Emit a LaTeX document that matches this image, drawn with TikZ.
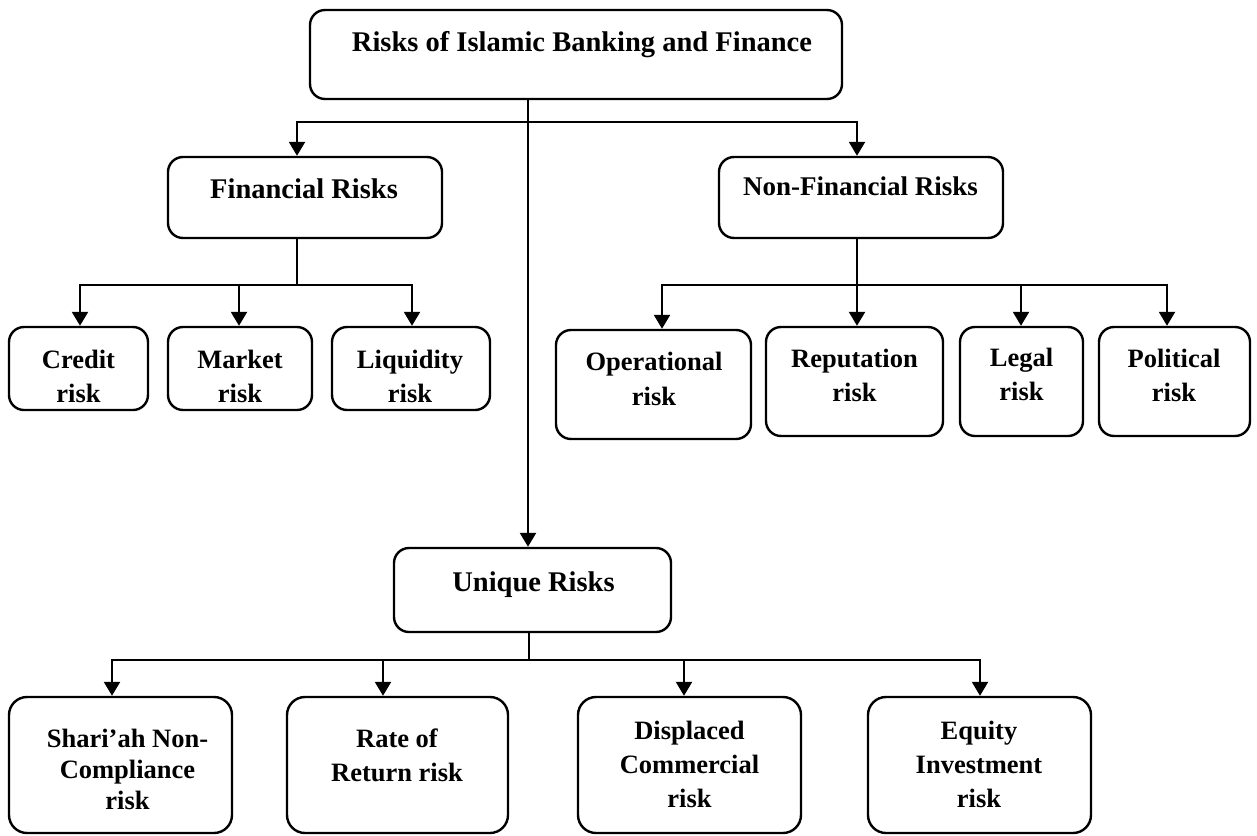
\documentclass[tikz,border=0pt]{standalone}
\usepackage{fontspec}
\setmainfont{Liberation Serif}
\usetikzlibrary{arrows.meta}
\tikzset{
  rbox/.style={draw, line width=2.4pt, rounded corners=15pt, inner sep=0pt},
  lbl/.style={anchor=north, inner sep=0pt, align=center,
    font=\bfseries\fontsize{26.5}{34}\selectfont},
  head/.style={lbl, font=\bfseries\fontsize{28.5}{34}\selectfont},
  wire/.style={line width=2.3pt},
  arr/.style={wire, -{Triangle[width=16pt,length=14pt]}},
}
% \mkbox[options]{name}{x1}{y1}{x2}{y2}: rounded box spanning the given corners
\newcommand\mkbox[6][]{%
  \node[rbox,#1,minimum width={(#5-#3)*1pt},minimum height={(#6-#4)*1pt}]
    (#2) at ({(#3+#5)/2},{(#4+#6)/2}) {};}
\begin{document}
\begin{tikzpicture}[x=1pt,y=-1pt]
\fill[white] (0,0) rectangle (1257,835);
\useasboundingbox (0,0) rectangle (1257,835);

% boxes
\mkbox{top}{310}{10}{842}{99}
\mkbox{fin}{168}{157}{442}{238}
\mkbox{nonfin}{719}{157}{1003}{238}
\mkbox{unique}{394}{548}{671}{632}
\mkbox{credit}{9}{327}{148}{410}
\mkbox{market}{168}{327}{312}{410}
\mkbox{liquid}{332}{327}{490}{410}
\mkbox{oper}{556}{330}{751}{439}
\mkbox{reput}{766}{327}{943}{436}
\mkbox{legal}{960}{327}{1083}{436}
\mkbox{polit}{1099}{327}{1250}{436}
\mkbox[rounded corners=18pt]{shariah}{9}{697}{232}{833}
\mkbox[rounded corners=18pt]{rate}{287}{697}{508}{833}
\mkbox[rounded corners=18pt]{displ}{578}{697}{801}{833}
\mkbox[rounded corners=18pt]{equity}{868}{697}{1091}{833}

% labels
\node[head] (top-t) at (582,31.5) {Risks of Islamic Banking and Finance};
\node[head] (fin-t) at (304,178.6) {Financial Risks};
\node[head, font=\bfseries\fontsize{27}{34}\selectfont] (nonfin-t) at (860.5,176.5) {Non-Financial Risks};
\node[head] (unique-t) at (533.5,571.6) {Unique Risks};
\node[lbl] (credit-t) at (78.5,350) {Credit\\risk};
\node[lbl] (market-t) at (240,350) {Market\\risk};
\node[lbl] (liquid-t) at (410,350) {Liquidity\\risk};
\node[lbl] (oper-t) at (654,352) {Operational\\[1pt]risk};
\node[lbl] (reput-t) at (854.5,349) {Reputation\\risk};
\node[lbl] (legal-t) at (1021.5,348) {Legal\\risk};
\node[lbl] (polit-t) at (1174,349) {Political\\risk};
\node[lbl] (shariah-t) at (127.5,729) {Shari’ah Non-\\[-3pt]Compliance\\[-3pt]risk};
\node[lbl] (rate-t) at (397,729) {Rate of\\Return risk};
\node[lbl] (displ-t) at (689.5,721) {Displaced\\Commercial\\risk};
\node[lbl] (equity-t) at (979,721) {Equity\\Investment\\risk};

% junction points of the connector buses
\coordinate (j0) at (528,122);
\coordinate (jf) at (297,122);
\coordinate (jn) at (857,122);
\coordinate (fb) at (297,285);
\coordinate (fb1) at (80,285);
\coordinate (fb2) at (239,285);
\coordinate (fb3) at (412,285);
\coordinate (nb) at (857,285);
\coordinate (nb1) at (662,285);
\coordinate (nb3) at (1021,285);
\coordinate (nb4) at (1167,285);
\coordinate (ub) at (529,660);
\coordinate (ub1) at (112,660);
\coordinate (ub2) at (383,660);
\coordinate (ub3) at (684,660);
\coordinate (ub4) at (980,660);

% top level
\draw[wire] (top.south -| j0) -- (j0);
\draw[arr] (j0) -- (unique.north -| j0);
\draw[arr] (j0) -- (jf) -- (fin.north -| jf);
\draw[arr] (j0) -- (jn) -- (nonfin.north -| jn);

% financial risks
\draw[wire] (fin.south -| fb) -- (fb);
\draw[arr] (fb) -- (fb1) -- (credit.north -| fb1);
\draw[arr] (fb2) -- (market.north -| fb2);
\draw[arr] (fb) -- (fb3) -- (liquid.north -| fb3);

% non-financial risks
\draw[arr] (nonfin.south -| nb) -- (reput.north -| nb);
\draw[arr] (nb) -- (nb1) -- (oper.north -| nb1);
\draw[arr] (nb3) -- (legal.north -| nb3);
\draw[arr] (nb) -- (nb4) -- (polit.north -| nb4);

% unique risks
\draw[wire] (unique.south -| ub) -- (ub);
\draw[arr] (ub) -- (ub1) -- (shariah.north -| ub1);
\draw[arr] (ub2) -- (rate.north -| ub2);
\draw[arr] (ub3) -- (displ.north -| ub3);
\draw[arr] (ub) -- (ub4) -- (equity.north -| ub4);
\end{tikzpicture}
\end{document}
